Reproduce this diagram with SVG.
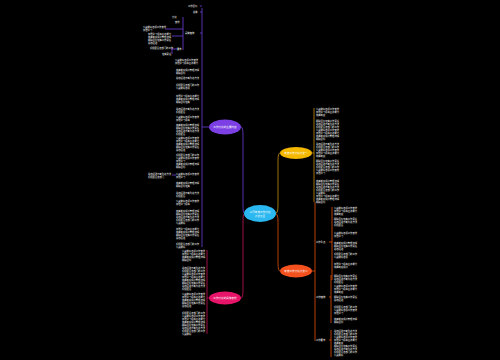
<svg xmlns="http://www.w3.org/2000/svg" width="500" height="360" viewBox="0 0 500 360">
<style>
.t{font-family:"Noto Sans CJK SC","Noto Sans",sans-serif;font-size:2.3px;fill:#ffffff}
.n{font-family:"Noto Sans CJK SC","Noto Sans",sans-serif;font-size:2.6px;fill:#ffffff;text-anchor:middle}
.lp{stroke:#6b3fd8;stroke-width:0.8;fill:none}
.lk{stroke:#c2185b;stroke-width:0.8;fill:none}
.ly{stroke:#c79100;stroke-width:0.8;fill:none}
.lo{stroke:#e65100;stroke-width:0.8;fill:none}
</style>
<rect width="500" height="360" fill="#000000"/>

<g id="connectors">
  <!-- center to main nodes -->
  <path class="lp" d="M244,213 Q243,213 243,205 L243,135 Q243,127 241,127"/>
  <path class="lk" d="M244,214 Q243,214 243,222 L243,290 Q243,298 241,298"/>
  <path class="ly" d="M276,213 Q278,213 278,205 L278,161 Q278,153 280,153"/>
  <path class="lo" d="M276,214 Q278,214 278,222 L278,263 Q278,271 280,271"/>
  <!-- purple branch -->
  <path class="lp" d="M209,127 L202,127 M202,8 L202,247"/>
  <path class="lp" d="M200,6 L202,6 M200,12 L202,12 M200,33 L202,33 M183,17 L183,50 M183,29 L165,29 M183,36 L172,36 M177,49 L172,49 M172,48 L172,54"/>
  <path class="lp" d="M172,175 L176,175"/>
  <!-- pink branch -->
  <path class="lk" d="M209,298 L207,298 M207,250 L207,334"/>
  <!-- yellow branch -->
  <path class="ly" d="M312,153 L314,153 M314,108 L314,202"/>
  <!-- orange branch -->
  <path class="lo" d="M312,271 L315,271 M315,202 L315,341"/>
  <path class="lo" d="M329,242 L332,242 M332,207 L332,280 M329,297 L331,297 M331,275 L331,323 M329,340 L331,340 M331,330 L331,357"/>
</g>

<g id="node-center">
  <ellipse cx="260" cy="213.5" rx="16" ry="8.5" fill="#2bb8f0"/>
  <text class="n" x="260" y="212.5">公司年度工作计划</text>
  <text class="n" x="260" y="216.5">范文大全</text>
</g>
<g id="node-purple">
  <ellipse cx="225" cy="127" rx="16" ry="7.5" fill="#7b3fe4"/>
  <text class="n" x="225" y="128">工作计划的主要内容</text>
</g>
<g id="node-pink">
  <ellipse cx="225" cy="298" rx="16" ry="6.5" fill="#e8146a"/>
  <text class="n" x="225" y="299">工作计划的具体安排</text>
</g>
<g id="node-yellow">
  <ellipse cx="296" cy="153" rx="16" ry="6" fill="#f5b800"/>
  <text class="n" x="296" y="154">年度工作计划范文一</text>
</g>
<g id="node-orange">
  <ellipse cx="296" cy="271" rx="16" ry="6.5" fill="#f4511e"/>
  <text class="n" x="296" y="272">年度工作计划范文二</text>
</g>

<g id="purple-leaves">
  <text class="t" x="188" y="7">工作目标</text>
  <text class="t" x="193" y="13">总体</text>
  <text class="t" x="185" y="34">具体措施</text>
  <text class="t" x="172" y="18">计划</text>
  <text class="t" x="175" y="23">安排</text>
  <text class="t" x="143" y="28">认真做好各项工作安排<tspan x="143" dy="3">加强学习</tspan></text>
  <text class="t" x="148" y="35">加强学习提高业务能力<tspan x="148" dy="3">完善制度规范管理流程</tspan><tspan x="148" dy="3">明确目标落实工作责任</tspan><tspan x="148" dy="3">总结经验</tspan></text>
  <text class="t" x="150" y="49">积极配合各部门的工作</text>
  <text class="t" x="177" y="50">要求</text>
  <text class="t" x="162" y="55">落实责任</text>
  <text class="t" x="175" y="61">认真做好各项工作安排<tspan x="175" dy="3">加强学习提高业务能力</tspan></text>
  <text class="t" x="176" y="71">完善制度规范管理流程<tspan x="176" dy="3">明确目标</tspan></text>
  <text class="t" x="176" y="79">总结经验不断改进方法</text>
  <text class="t" x="176" y="86">积极配合各部门的工作<tspan x="176" dy="3">认真做好各项</tspan></text>
  <text class="t" x="176" y="97">加强学习提高业务能力<tspan x="176" dy="3">完善制度规范管理流程</tspan><tspan x="176" dy="3">明确目标落实</tspan></text>
  <text class="t" x="176" y="110">总结经验不断改进方法<tspan x="176" dy="3">积极配合</tspan></text>
  <text class="t" x="176" y="118">认真做好各项工作安排<tspan x="176" dy="3">加强学习提高</tspan></text>
  <text class="t" x="176" y="126">完善制度规范管理流程<tspan x="176" dy="3">明确目标落实工作责任</tspan><tspan x="176" dy="3">总结经验不断改进方法</tspan><tspan x="176" dy="3">积极配合</tspan></text>
  <text class="t" x="176" y="139">认真做好各项工作安排<tspan x="176" dy="3">加强学习提高业务能力</tspan><tspan x="176" dy="3">完善制度规范管理流程</tspan><tspan x="176" dy="3">明确目标落实工作责任</tspan><tspan x="176" dy="3">总结经验</tspan></text>
  <text class="t" x="176" y="156">积极配合各部门的工作<tspan x="176" dy="3">认真做好各项工作安排</tspan><tspan x="176" dy="3">加强学习</tspan></text>
  <text class="t" x="176" y="165">完善制度规范管理流程<tspan x="176" dy="3">明确目标</tspan></text>
  <text class="t" x="148" y="175">总结经验不断改进方法<tspan x="148" dy="3">积极配合各部门</tspan></text>
  <text class="t" x="176" y="175">认真做好各项工作安排<tspan x="176" dy="3">加强学习</tspan></text>
  <text class="t" x="176" y="184">完善制度规范管理流程<tspan x="176" dy="3">明确目标落实</tspan></text>
  <text class="t" x="176" y="194">总结经验不断改进方法<tspan x="176" dy="3">积极配合</tspan></text>
  <text class="t" x="176" y="202">认真做好各项工作安排<tspan x="176" dy="3">加强学习提高</tspan></text>
  <text class="t" x="176" y="212">完善制度规范管理流程<tspan x="176" dy="3">明确目标落实工作责任</tspan><tspan x="176" dy="3">总结经验不断改进方法</tspan><tspan x="176" dy="3">积极配合各部门的工作</tspan><tspan x="176" dy="3">认真做好</tspan></text>
  <text class="t" x="176" y="230">加强学习提高业务能力<tspan x="176" dy="3">完善制度规范管理流程</tspan><tspan x="176" dy="3">明确目标落实工作责任</tspan><tspan x="176" dy="3">总结经验</tspan></text>
  <text class="t" x="176" y="245">积极配合各部门的工作<tspan x="176" dy="3">认真做好</tspan></text>
</g>

<g id="pink-leaves">
  <text class="t" x="182" y="252">认真做好各项工作安排<tspan x="182" dy="3">加强学习提高业务能力</tspan><tspan x="182" dy="3">完善制度规范管理流程</tspan><tspan x="182" dy="3">明确目标</tspan></text>
  <text class="t" x="182" y="269">总结经验不断改进方法<tspan x="182" dy="3">积极配合各部门的工作</tspan><tspan x="182" dy="3">认真做好各项工作安排</tspan><tspan x="182" dy="3">加强学习提高业务能力</tspan><tspan x="182" dy="3">完善制度规范管理流程</tspan><tspan x="182" dy="3">明确目标落实工作责任</tspan><tspan x="182" dy="3">总结经验不断改进方法</tspan><tspan x="182" dy="3">积极配合</tspan></text>
  <text class="t" x="182" y="295">认真做好各项工作安排<tspan x="182" dy="3">加强学习提高业务能力</tspan><tspan x="182" dy="3">完善制度规范管理流程</tspan><tspan x="182" dy="3">明确目标落实工作责任</tspan><tspan x="182" dy="3">总结经验</tspan></text>
  <text class="t" x="182" y="314">积极配合各部门的工作<tspan x="182" dy="3">认真做好各项工作安排</tspan><tspan x="182" dy="3">加强学习提高业务能力</tspan><tspan x="182" dy="3">完善制度规范管理流程</tspan><tspan x="182" dy="3">明确目标落实工作责任</tspan><tspan x="182" dy="3">总结经验不断改进方法</tspan><tspan x="182" dy="3">积极配合各部门的工作</tspan><tspan x="182" dy="3">认真做好</tspan></text>
</g>

<g id="yellow-leaves">
  <text class="t" x="316" y="110">认真做好各项工作安排<tspan x="316" dy="3">加强学习提高业务能力</tspan><tspan x="316" dy="3">完善制度</tspan></text>
  <text class="t" x="316" y="122">明确目标落实工作责任<tspan x="316" dy="3">总结经验不断改进方法</tspan><tspan x="316" dy="3">积极配合各部门的工作</tspan><tspan x="316" dy="3">认真做好各项工作安排</tspan><tspan x="316" dy="3">加强学习提高业务能力</tspan><tspan x="316" dy="3">完善制度规范管理流程</tspan><tspan x="316" dy="3">明确目标</tspan></text>
  <text class="t" x="316" y="145">总结经验不断改进方法<tspan x="316" dy="3">积极配合各部门的工作</tspan><tspan x="316" dy="3">认真做好各项工作安排</tspan><tspan x="316" dy="3">加强学习提高业务能力</tspan><tspan x="316" dy="3">完善制度</tspan></text>
  <text class="t" x="316" y="162">明确目标落实工作责任<tspan x="316" dy="3">总结经验不断改进方法</tspan><tspan x="316" dy="3">积极配合各部门的工作</tspan><tspan x="316" dy="3">认真做好各项工作安排</tspan><tspan x="316" dy="3">加强学习</tspan></text>
  <text class="t" x="316" y="182">完善制度规范管理流程<tspan x="316" dy="3">明确目标落实工作责任</tspan><tspan x="316" dy="3">总结经验不断改进方法</tspan><tspan x="316" dy="3">积极配合各部门的工作</tspan><tspan x="316" dy="3">认真做好</tspan></text>
  <text class="t" x="316" y="197">加强学习提高业务能力<tspan x="316" dy="3">完善制度规范管理流程</tspan><tspan x="316" dy="3">明确目标</tspan></text>
</g>

<g id="orange-leaves">
  <text class="t" x="316" y="243">工作重点</text>
  <text class="t" x="316" y="298">工作措施</text>
  <text class="t" x="316" y="341">工作要求</text>
  <text class="t" x="334" y="209">认真做好各项工作安排<tspan x="334" dy="3">加强学习提高业务能力</tspan><tspan x="334" dy="3">完善制度</tspan></text>
  <text class="t" x="334" y="220">明确目标落实工作责任<tspan x="334" dy="3">总结经验不断改进方法</tspan><tspan x="334" dy="3">积极配合</tspan></text>
  <text class="t" x="334" y="234">认真做好各项工作安排<tspan x="334" dy="3">加强学习</tspan></text>
  <text class="t" x="334" y="244">完善制度规范管理流程<tspan x="334" dy="3">明确目标落实工作责任</tspan><tspan x="334" dy="3">总结经验</tspan></text>
  <text class="t" x="334" y="255">积极配合各部门的工作<tspan x="334" dy="3">认真做好各项</tspan></text>
  <text class="t" x="334" y="265">加强学习提高业务能力<tspan x="334" dy="3">完善制度规范</tspan></text>
  <text class="t" x="334" y="277">明确目标落实工作责任<tspan x="334" dy="3">总结经验不断改进方法</tspan><tspan x="334" dy="3">积极配合</tspan></text>
  <text class="t" x="334" y="287">认真做好各项工作安排<tspan x="334" dy="3">加强学习提高业务能力</tspan><tspan x="334" dy="3">完善制度</tspan></text>
  <text class="t" x="334" y="298">明确目标落实工作责任<tspan x="334" dy="3">总结经验</tspan></text>
  <text class="t" x="334" y="308">积极配合各部门的工作<tspan x="334" dy="3">认真做好各项工作安排</tspan><tspan x="334" dy="3">加强学习</tspan></text>
  <text class="t" x="334" y="320">完善制度规范管理流程<tspan x="334" dy="3">明确目标</tspan></text>
  <text class="t" x="334" y="332">总结经验不断改进方法<tspan x="334" dy="3">积极配合各部门的工作</tspan><tspan x="334" dy="3">认真做好各项工作安排</tspan><tspan x="334" dy="3">加强学习提高业务能力</tspan><tspan x="334" dy="3">完善制度</tspan></text>
  <text class="t" x="334" y="347">明确目标落实工作责任<tspan x="334" dy="3">总结经验不断改进方法</tspan><tspan x="334" dy="3">积极配合各部门的工作</tspan><tspan x="334" dy="3">认真做好</tspan></text>
</g>
</svg>
